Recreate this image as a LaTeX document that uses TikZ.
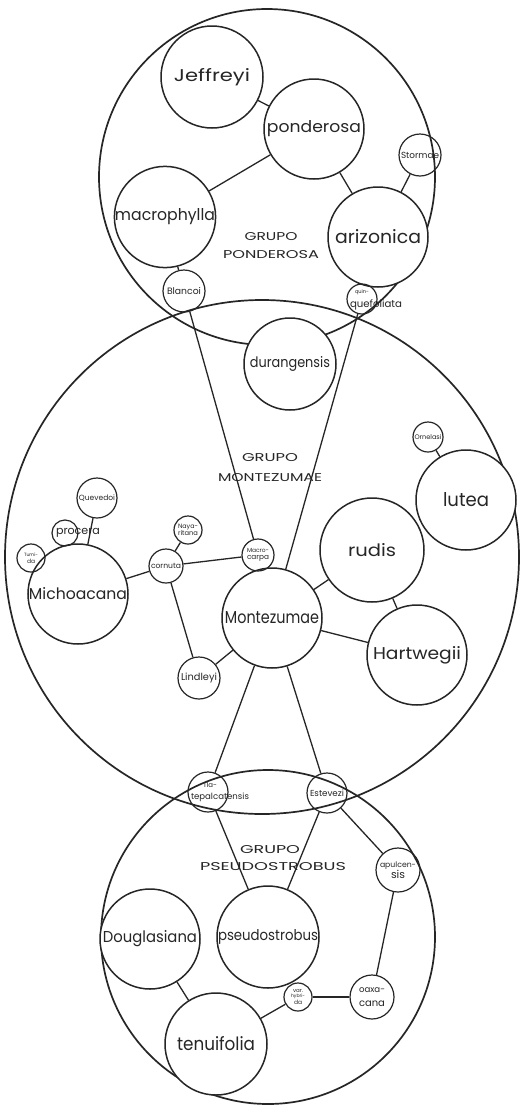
\documentclass[tikz,border=0pt]{standalone}
\usepackage{fontspec}
\setmainfont{Poppins}
\usepackage{graphicx}
\definecolor{ink}{gray}{0.15}
\newcommand\fitw[2]{\resizebox{#1pt}{!}{#2}}
\newcommand\fitwh[3]{\resizebox{#1pt}{#2pt}{#3}}
\begin{document}
\begin{tikzpicture}[x=1pt,y=-1pt]
\tikzset{
 grp/.style={circle,draw=ink,line width=1.7pt,inner sep=0pt,minimum size=#1},
 sp/.style={circle,draw=ink,line width=1.5pt,fill=white,inner sep=0pt,minimum size=#1,text=ink},
 sm/.style={circle,draw=ink,line width=1.2pt,inner sep=0pt,minimum size=#1,text=ink,align=center,font=\fontsize{6}{7.5}\selectfont},
 conn/.style={draw=ink,line width=1.3pt},
 glab/.style={text=ink,inner sep=0pt},
 slab/.style={text=ink,inner sep=0pt,font=\fontsize{6}{6}\selectfont}
}
\path[use as bounding box,fill=white] (0,0) rectangle (521,1106);
% group circles
\node[grp=336pt] (gpon) at (267,177) {};
\node[grp=514pt] (gmon) at (262,557) {};
\node[grp=334pt] (gpse) at (268,937) {};
% group labels
\node[glab] (lp1) at (271,237) {\fitwh{53}{8}{GRUPO}};
\node[glab] (lp2) at (271,255) {\fitwh{96}{8}{PONDEROSA}};
\node[glab] (lm1) at (270,458) {\fitwh{56}{8}{GRUPO}};
\node[glab] (lm2) at (270,478) {\fitwh{104}{8}{MONTEZUMAE}};
\node[glab] (ls1) at (270,850) {\fitwh{60}{8}{GRUPO}};
\node[glab] (ls2) at (273,867) {\fitwh{146}{8}{PSEUDOSTROBUS}};
% Ponderosa group
\node[sp=102pt] (jef) at (212,77) {\fitwh{76}{13}{Jeffreyi}};
\node[sp=100pt] (pon) at (314,129) {\fitwh{94}{12}{ponderosa}};
\node[sp=100pt] (mac) at (165,217) {\fitwh{100}{12}{macrophylla}};
\node[sp=100pt] (ari) at (378,237) {\fitwh{86}{14}{arizonica}};
\node[sm=42pt] (sto) at (420,155) {\fitw{38}{Stormae}};
\node[sm=42pt] (bla) at (184,291) {\fitw{34}{Blancoi}};
\node[sm=30pt] (qui) at (362,299) {};
\node[slab] (qui1) at (362,292) {\fitw{14}{quin-}};
\node[slab] (qui2) at (376,305) {\fitw{52}{quefoliata}};
\node[sp=92pt] (dur) at (290,364) {\fitwh{80}{11}{durangensis}};
% Montezumae group
\node[sp=100pt] (mon) at (272,618) {\fitwh{94}{12}{Montezumae}};
\node[sp=104pt] (rud) at (372,550) {\fitwh{48}{13}{rudis}};
\node[sp=100pt] (har) at (417,655) {\fitwh{88}{13}{Hartwegii}};
\node[sp=100pt] (lut) at (466,500) {\fitwh{46}{14}{lutea}};
\node[sm=30pt] (orn) at (428,437) {\fitw{27}{Ornelasi}};
\node[sm=32pt] (mca) at (258,555) {\fitw{22}{Macro-}\\\fitw{22}{carpa}};
\node[sm=28pt] (nay) at (188,530) {\fitw{20}{Naya-}\\\fitw{20}{ritana}};
\node[sm=34pt] (cor) at (166,566) {\fitw{30}{cornuta}};
\node[sp=100pt] (mic) at (78,594) {\fitwh{98}{12}{Michoacana}};
\node[sm=40pt] (que) at (97,498) {\fitw{36}{Quevedoi}};
\node[sm=26pt] (pro) at (65,533) {};
\node[slab] (prol) at (78,533) {\fitw{44}{procera}};
\node[sm=28pt] (tum) at (31,558) {\fitw{14}{Tumi-}\\\fitw{8}{da}};
\node[sm=42pt] (lin) at (199,678) {\fitw{36}{Lindleyi}};
% Pseudostrobus group
\node[sm=40pt] (tep) at (208,792) {};
\node[slab] (tep1) at (210,785) {\fitw{14}{Tla-}};
\node[slab] (tep2) at (220,797) {\fitw{58}{tepalcatensis}};
\node[sm=40pt] (est) at (327,793) {\fitw{34}{Estevezi}};
\node[sp=100pt] (dou) at (150,939) {\fitwh{94}{12}{Douglasiana}};
\node[sp=102pt] (pse) at (268,937) {\fitwh{100}{11}{pseudostrobus}};
\node[sp=102pt] (ten) at (216,1044) {\fitwh{78}{14}{tenuifolia}};
\node[sm=28pt,font=\fontsize{5}{5.5}\selectfont] (hyb) at (298,997) {\fitw{10}{var.}\\\fitw{14}{hybri-}\\\fitw{8}{da}};
\node[sm=44pt] (oax) at (372,997) {};
\node[slab] (oax1) at (372,990) {\fitw{26}{oaxa-}};
\node[slab] (oax2) at (372,1004) {\fitw{26}{cana}};
\node[sm=44pt] (apu) at (398,870) {\fitw{36}{apulcen-}\\\fitw{14}{sis}};
% connectors
\draw[conn] (jef) -- (pon);
\draw[conn] (pon) -- (mac);
\draw[conn] (pon) -- (ari);
\draw[conn] (ari) -- (sto);
\draw[conn] (mac) -- (bla);
\draw[conn] (bla) -- (mca);
\draw[conn] (qui) -- (mon);
\draw[conn] (mon) -- (rud);
\draw[conn] (mon) -- (har);
\draw[conn] (rud) -- (har);
\draw[conn] (lut) -- (orn);
\draw[conn] (cor) -- (mca);
\draw[conn] (mic) -- (cor);
\draw[conn] (nay) -- (cor);
\draw[conn] (cor) -- (lin);
\draw[conn] (lin) -- (mon);
\draw[conn] (que) -- (mic);
\draw[conn] (mon) -- (tep);
\draw[conn] (mon) -- (est);
\draw[conn] (tep) -- (pse);
\draw[conn] (est) -- (pse);
\draw[conn] (est) -- (apu);
\draw[conn] (apu) -- (oax);
\draw[conn] (oax) -- (hyb);
\draw[conn] (hyb) -- (ten);
\draw[conn] (dou) -- (ten);
\end{tikzpicture}
\end{document}
